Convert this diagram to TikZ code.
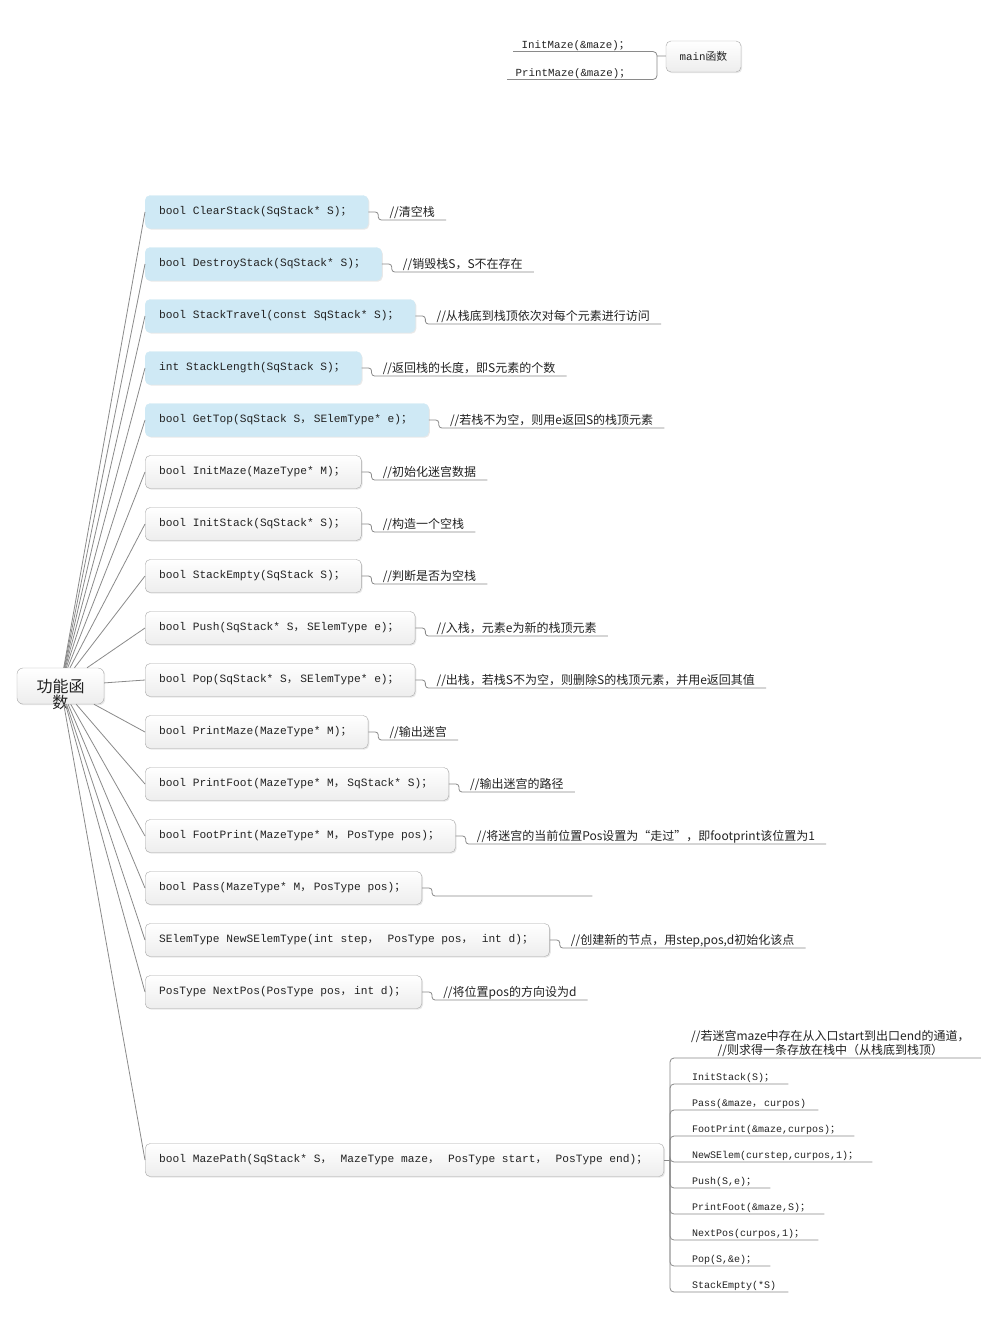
\documentclass[tikz,border=0pt]{standalone}
\usepackage{fontspec}
\setmonofont{Liberation Mono}
\newfontfamily\cjk{Noto Sans CJK SC}
\usepackage{tikz}
\usetikzlibrary{calc,positioning,shadows}
\definecolor{linegray}{HTML}{8A8A8A}
\definecolor{boxgray}{HTML}{A8A8A8}
\definecolor{boxblue}{HTML}{CFE9F5}
\definecolor{inkgray}{HTML}{222222}
\newcommand{\FSemi}{\makebox[1.2em][l]{\cjk ；}}
\newcommand{\FComma}{\makebox[1.2em][l]{\cjk ，}}
\tikzset{
  branch/.style={draw=linegray,line width=0.8pt},
  fnbox/.style={draw=boxgray,rounded corners=5pt,top color=white,bottom color=gray!14,
    minimum height=33pt,inner xsep=14pt,anchor=west,text=inkgray,
    font=\ttfamily\fontsize{11.2}{13}\selectfont,
    drop shadow={opacity=0.18,shadow xshift=1.2pt,shadow yshift=-1.2pt}},
  fnblue/.style={fnbox,draw=boxblue,top color=boxblue,bottom color=boxblue},
  topic/.style={fnbox,anchor=center,minimum width=75pt,minimum height=31pt,inner xsep=6pt,
    font=\ttfamily\fontsize{10.8}{13}\selectfont},
  root/.style={fnbox,anchor=center,rounded corners=6pt,minimum width=87pt,minimum height=36pt,
    inner xsep=4pt,text depth=0pt,font=\cjk\fontsize{16}{16}\selectfont},
  note/.style={anchor=south west,inner xsep=11pt,inner ysep=1pt,text=inkgray,
    font=\cjk\fontsize{12}{14}\selectfont},
  call/.style={anchor=south west,inner xsep=8.5pt,inner ysep=1pt,text=inkgray,
    font=\ttfamily\fontsize{10.8}{13}\selectfont},
  step item/.style={anchor=south west,inner xsep=12pt,inner ysep=1pt,text=inkgray,
    font=\ttfamily\fontsize{10}{12}\selectfont}
}
\begin{document}
\begin{tikzpicture}[x=1pt,y=-1pt]
  \fill[white] (0,0) rectangle (1001,1326);
  \useasboundingbox (0,0) rectangle (1001,1326);
  % main function
  \node[topic] (mainfn) at (703.5,56.5) {main{\cjk 函数}};
  \coordinate (mfork) at (657,56);
  \node[call] (im) at (513,51.5) {InitMaze(\&maze)\FSemi};
  \node[call] (pm) at (507,79.5) {PrintMaze(\&maze)\FSemi};
  \draw[branch] (mainfn) -- (mfork);
  \draw[branch,rounded corners=4pt] (mfork) |- (im.south west);
  \draw[branch,rounded corners=4pt] (mfork) |- (pm.south west);
  % function boxes
  \node[root] (root) at (60.5,686) {\vtop{\hbox{功能函}\hbox to 48pt{\hss 数\hss}}};
  \node[fnblue] (f0) at (145,212) {bool ClearStack(SqStack* S)\FSemi};
  \node[fnblue] (f1) at (145,264) {bool DestroyStack(SqStack* S)\FSemi};
  \node[fnblue] (f2) at (145,316) {bool StackTravel(const SqStack* S)\FSemi};
  \node[fnblue] (f3) at (145,368) {int StackLength(SqStack S)\FSemi};
  \node[fnblue] (f4) at (145,420) {bool GetTop(SqStack S\FComma SElemType* e)\FSemi};
  \node[fnbox] (f5) at (145,472) {bool InitMaze(MazeType* M)\FSemi};
  \node[fnbox] (f6) at (145,524) {bool InitStack(SqStack* S)\FSemi};
  \node[fnbox] (f7) at (145,576) {bool StackEmpty(SqStack S)\FSemi};
  \node[fnbox] (f8) at (145,628) {bool Push(SqStack* S\FComma SElemType e)\FSemi};
  \node[fnbox] (f9) at (145,680) {bool Pop(SqStack* S\FComma SElemType* e)\FSemi};
  \node[fnbox] (f10) at (145,732) {bool PrintMaze(MazeType* M)\FSemi};
  \node[fnbox] (f11) at (145,784) {bool PrintFoot(MazeType* M\FComma SqStack* S)\FSemi};
  \node[fnbox] (f12) at (145,836) {bool FootPrint(MazeType* M\FComma PosType pos)\FSemi};
  \node[fnbox] (f13) at (145,888) {bool Pass(MazeType* M\FComma PosType pos)\FSemi};
  \node[fnbox] (f14) at (145,940) {SElemType NewSElemType(int step\FComma{} PosType pos\FComma{} int d)\FSemi};
  \node[fnbox] (f15) at (145,992) {PosType NextPos(PosType pos\FComma int d)\FSemi};
  \node[fnbox] (f16) at (145,1160) {bool MazePath(SqStack* S\FComma{} MazeType maze\FComma{} PosType start\FComma{} PosType end)\FSemi};
  % comments
  \node[note] (n0) at ($(f0.east)+(10,8)$) {//清空栈};
  \node[note] (n1) at ($(f1.east)+(10,8)$) {//销毁栈S，S不在存在};
  \node[note] (n2) at ($(f2.east)+(10,8)$) {//从栈底到栈顶依次对每个元素进行访问};
  \node[note] (n3) at ($(f3.east)+(10,8)$) {//返回栈的长度，即S元素的个数};
  \node[note] (n4) at ($(f4.east)+(10,8)$) {//若栈不为空，则用e返回S的栈顶元素};
  \node[note] (n5) at ($(f5.east)+(10,8)$) {//初始化迷宫数据};
  \node[note] (n6) at ($(f6.east)+(10,8)$) {//构造一个空栈};
  \node[note] (n7) at ($(f7.east)+(10,8)$) {//判断是否为空栈};
  \node[note] (n8) at ($(f8.east)+(10,8)$) {//入栈，元素e为新的栈顶元素};
  \node[note] (n9) at ($(f9.east)+(10,8)$) {//出栈，若栈S不为空，则删除S的栈顶元素，并用e返回其值};
  \node[note] (n10) at ($(f10.east)+(10,8)$) {//输出迷宫};
  \node[note] (n11) at ($(f11.east)+(10,8)$) {//输出迷宫的路径};
  \node[note] (n12) at ($(f12.east)+(10,8)$) {//将迷宫的当前位置Pos设置为“走过”，即footprint该位置为1};
  \node[note,minimum width=160pt] (n13) at ($(f13.east)+(10,8)$) {};
  \node[note] (n14) at ($(f14.east)+(10,8)$) {//创建新的节点，用step,pos,d初始化该点};
  \node[note] (n15) at ($(f15.east)+(10,8)$) {//将位置pos的方向设为d};
  % steps of MazePath
  \coordinate (pfork) at (670,1160);
  \node[note,align=center] (p0) at (680,1058) {//若迷宫maze中存在从入口start到出口end的通道，\\//则求得一条存放在栈中（从栈底到栈顶）};
  \node[step item] (p1) at (680,1084) {InitStack(S)\FSemi};
  \node[step item] (p2) at (680,1110) {Pass(\&maze\FComma curpos)};
  \node[step item] (p3) at (680,1136) {FootPrint(\&maze,curpos)\FSemi};
  \node[step item] (p4) at (680,1162) {NewSElem(curstep,curpos,1)\FSemi};
  \node[step item] (p5) at (680,1188) {Push(S,e)\FSemi};
  \node[step item] (p6) at (680,1214) {PrintFoot(\&maze,S)\FSemi};
  \node[step item] (p7) at (680,1240) {NextPos(curpos,1)\FSemi};
  \node[step item] (p8) at (680,1266) {Pop(S,\&e)\FSemi};
  \node[step item] (p9) at (680,1292) {StackEmpty(*S)};
  % connectors
  \foreach \i in {0,...,16} \draw[branch] (root) -- (f\i.west);
  \foreach \i in {0,...,15} \draw[branch,rounded corners=3pt] (f\i.east) -| (n\i.south west) -- (n\i.south east);
  \draw[branch] (f16.east) -- (pfork);
  \foreach \i in {0,...,9} \draw[branch,rounded corners=4pt] (pfork) |- (p\i.south east);
\end{tikzpicture}
\end{document}
